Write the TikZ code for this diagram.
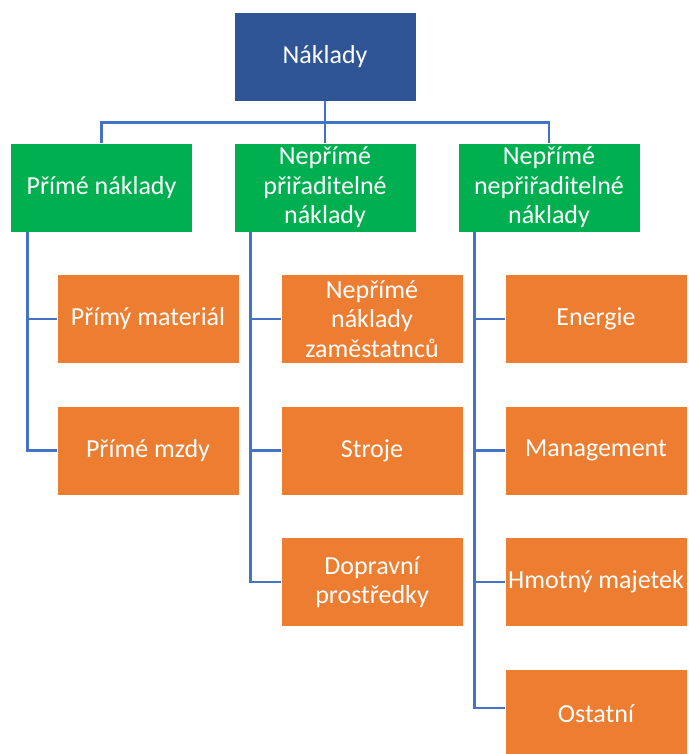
\documentclass[tikz,border=0pt]{standalone}
\usepackage{fontspec}
\setmainfont{Carlito}
\usetikzlibrary{positioning}

\definecolor{topblue}{HTML}{2F5597}
\definecolor{boxgreen}{HTML}{00B050}
\definecolor{boxorange}{HTML}{ED7D31}
\definecolor{linkblue}{HTML}{4472C4}

\begin{document}
\begin{tikzpicture}[x=1pt, y=-1pt,
    box/.style={minimum width=182pt, minimum height=89pt, inner sep=1pt,
        align=center, text=white, draw=white, line width=0.6pt,
        font=\fontsize{26}{29.5}\selectfont},
    topbox/.style={box, fill=topblue},
    groupbox/.style={box, fill=boxgreen},
    itembox/.style={box, fill=boxorange},
    link/.style={draw=linkblue, line width=2.8pt}]
    \useasboundingbox (0,0) rectangle (688,754);

    % horní uzel
    \node[topbox] (naklady) at (325,56.5) {Náklady};

    % skupiny nákladů
    \node[groupbox] (prime) at (101.5,187.5) {Přímé náklady};
    \node[groupbox] (prirad) at (325,187.5) {Nepřímé\\přiřaditelné\\náklady};
    \node[groupbox] (neprirad) at (549,187.5) {Nepřímé\\nepřiřaditelné\\náklady};

    % položky: přímé náklady
    \node[itembox] (material) at (148,319) {Přímý materiál};
    \node[itembox] (mzdy) at (148,450.5) {Přímé mzdy};

    % položky: nepřímé přiřaditelné
    \node[itembox] (zamest) at (372,319) {Nepřímé\\náklady\\zaměstatnců};
    \node[itembox] (stroje) at (372,450.5) {Stroje};
    \node[itembox] (doprava) at (372,582) {Dopravní\\prostředky};

    % položky: nepřímé nepřiřaditelné
    \node[itembox] (energie) at (596,319) {Energie};
    \node[itembox] (management) at (596,450.5) {Management};
    \node[itembox] (majetek) at (596,582) {Hmotný majetek};
    \node[itembox] (ostatni) at (596,713.5) {Ostatní};

    % spojnice shora ke skupinám
    \draw[link] (naklady.south) -- ([yshift=-21pt]naklady.south) -| (prime.north);
    \draw[link] (naklady.south) -- ([yshift=-21pt]naklady.south) -| (prirad.north);
    \draw[link] (naklady.south) -- ([yshift=-21pt]naklady.south) -| (neprirad.north);

    % spojnice ke položkám
    \draw[link] ([xshift=17pt]prime.south west) |- (material.west);
    \draw[link] ([xshift=17pt]prime.south west) |- (mzdy.west);
    \draw[link] ([xshift=17pt]prirad.south west) |- (zamest.west);
    \draw[link] ([xshift=17pt]prirad.south west) |- (stroje.west);
    \draw[link] ([xshift=17pt]prirad.south west) |- (doprava.west);
    \draw[link] ([xshift=17pt]neprirad.south west) |- (energie.west);
    \draw[link] ([xshift=17pt]neprirad.south west) |- (management.west);
    \draw[link] ([xshift=17pt]neprirad.south west) |- (majetek.west);
    \draw[link] ([xshift=17pt]neprirad.south west) |- ([yshift=5.5pt]ostatni.west);
\end{tikzpicture}
\end{document}
